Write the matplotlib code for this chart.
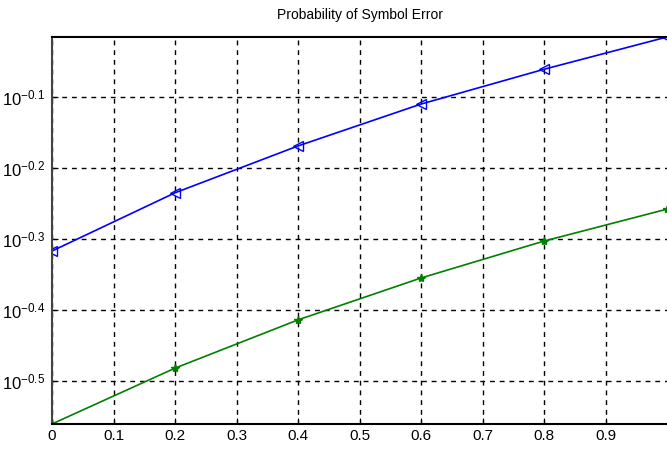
import numpy as np
import matplotlib
matplotlib.use("Agg")
import matplotlib.pyplot as plt
from matplotlib.ticker import FixedLocator, NullLocator

# values (probabilities, log scale)
snr = [0, 0.2, 0.4, 0.6, 0.8, 1.0]
pe_blue = [10**-0.317, 10**-0.235, 10**-0.169, 10**-0.110, 10**-0.061, 10**-0.0155]
pe_green = [10**-0.5606, 10**-0.482, 10**-0.414, 10**-0.355, 10**-0.303, 10**-0.258]
ytick_exp = [-0.5, -0.4, -0.3, -0.2, -0.1]
xticks = [0, 0.1, 0.2, 0.3, 0.4, 0.5, 0.6, 0.7, 0.8, 0.9]

plt.rcParams['font.family'] = ['Liberation Sans', 'DejaVu Sans']
plt.rcParams['mathtext.fontset'] = 'custom'
plt.rcParams['mathtext.rm'] = 'Liberation Sans'
plt.rcParams['mathtext.it'] = 'Liberation Sans'
plt.rcParams['mathtext.bf'] = 'Liberation Sans:bold'

fig = plt.figure(figsize=(6.67, 4.51), dpi=100)
ax = fig.add_axes([0.078, 0.06, 0.922, 0.858])

ax.plot(snr, pe_blue, color='#0000ff', marker='<', markersize=7,
        markerfacecolor='none', markeredgecolor='#0000ff', linewidth=1.2)
ax.plot(snr, pe_green, color='#008000', marker='*', markersize=6,
        linewidth=1.2)

ax.set_yscale('log')
ax.set_xlim(0, 1)
ax.set_ylim(10**-0.5606, 10**-0.0155)

ax.yaxis.set_major_locator(FixedLocator([10**e for e in ytick_exp]))
ax.yaxis.set_minor_locator(NullLocator())
ax.set_yticklabels([r'$\mathregular{10^{%g}}$' % e for e in ytick_exp])
ax.set_xticks(xticks)
ax.set_xticklabels(['%g' % v for v in xticks])

ax.grid(True, color='black', linestyle=(0, (3.5, 3.5)), linewidth=1)
ax.tick_params(direction='in', length=4, labelsize=11)
ax.tick_params(axis='y', labelsize=12, pad=5)
ax.spines['right'].set_visible(False)
for s in ['left', 'bottom', 'top']:
    ax.spines[s].set_linewidth(1.5)
ax.spines['left'].set_color('#444444')

ax.set_title('Probability of Symbol Error', fontsize=10, pad=13)

fig.savefig('out.png', dpi=100)
